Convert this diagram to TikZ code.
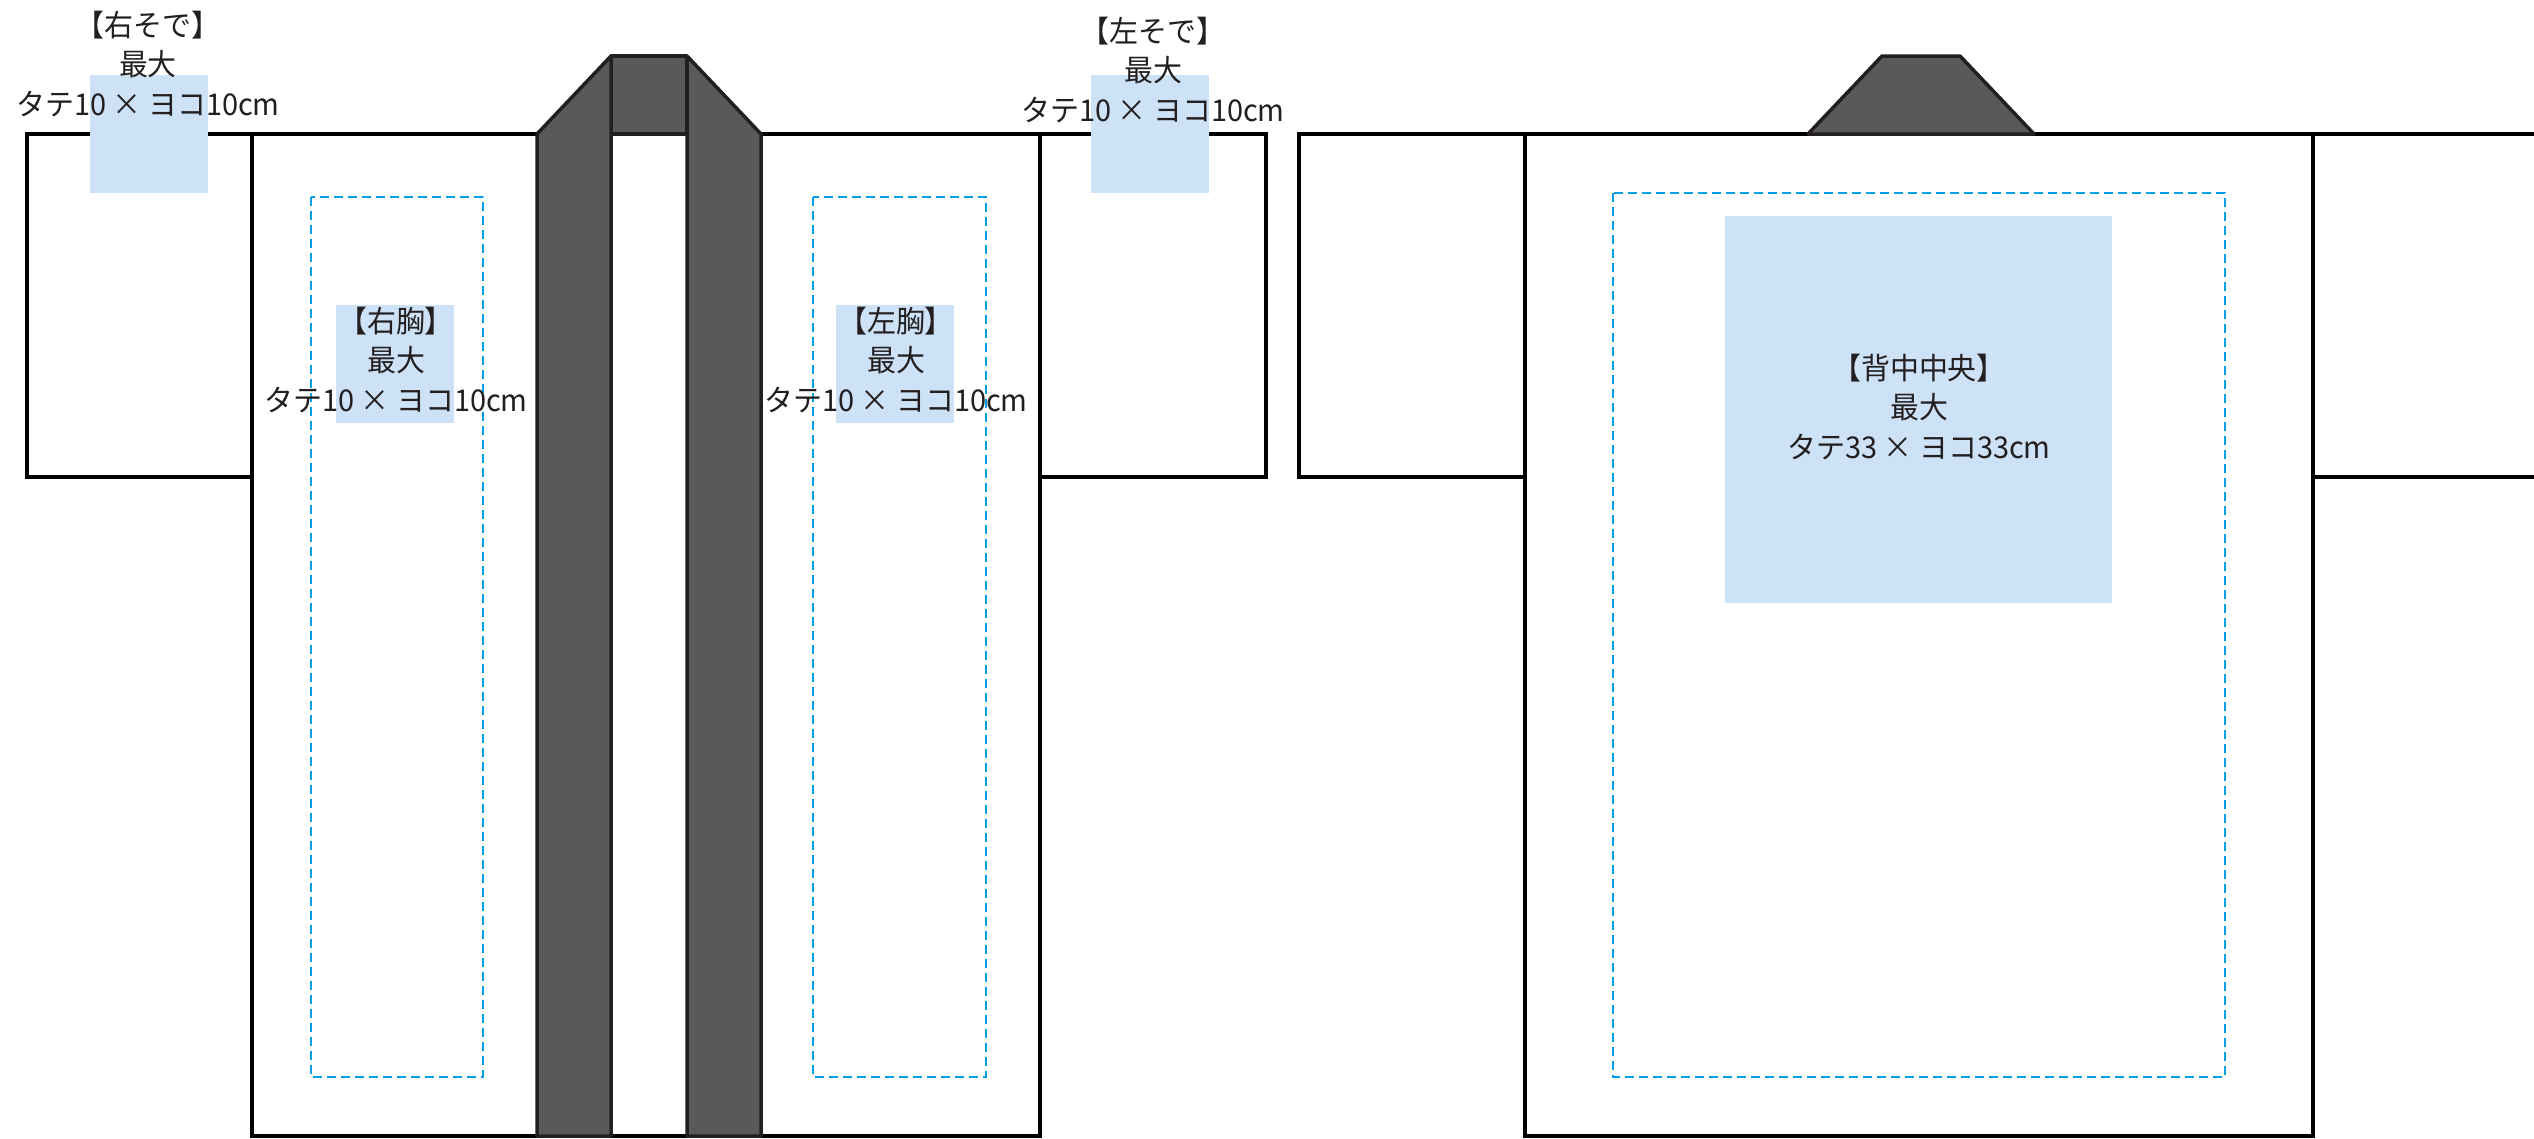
\documentclass[tikz,border=0pt]{standalone}
\usepackage{fontspec}
\newfontfamily\jpfont[FakeStretch=0.965]{Noto Sans CJK JP}
\definecolor{areablue}{HTML}{CDE2F6}
\definecolor{limitcyan}{HTML}{00A0E2}
\definecolor{collargray}{HTML}{58595B}
\definecolor{collarline}{HTML}{231F20}
\tikzset{
    bodyline/.style={line width=4pt,black},
    collarpart/.style={line width=3.5pt,draw=collarline,fill=collargray,line join=round},
    printarea/.style={fill=areablue},
    printlimit/.style={line width=2.4pt,draw=limitcyan,dash pattern=on 9pt off 5pt},
    sizelabel/.style={inner sep=0pt,align=center,text=collarline,font=\jpfont\fontsize{30}{39.5}\selectfont}
}
\begin{document}
\begin{tikzpicture}[x=1pt,y=-1pt]
        \useasboundingbox (0,0) rectangle (2534,1138);
        \fill[white] (0,0) rectangle (2534,1138);
        % front
        \draw[bodyline] (252,134) -- (27,134) -- (27,477) -- (252,477);
        \draw[bodyline] (1040,134) -- (1266,134) -- (1266,477) -- (1040,477);
        \draw[bodyline] (252,134) rectangle (1040,1136);
        \draw[collarpart] (611,56) rectangle (687,134);
        \draw[collarpart] (537,1136) -- (537,134) -- (611,56) -- (611,1136) -- cycle;
        \draw[collarpart] (761,1136) -- (761,134) -- (687,56) -- (687,1136) -- cycle;
        \draw[printlimit] (311,197) rectangle (483,1077);
        \draw[printlimit] (813,197) rectangle (986,1077);
        \fill[printarea] (90,75) rectangle (208,193);
        \fill[printarea] (1091,75) rectangle (1209,193);
        \fill[printarea] (336,305) rectangle (454,423);
        \fill[printarea] (836,305) rectangle (954,423);
        % back
        \draw[bodyline] (1525,134) -- (1299,134) -- (1299,477) -- (1525,477);
        \draw[bodyline] (2313,134) -- (2534,134);
        \draw[bodyline] (2313,477) -- (2534,477);
        \draw[bodyline] (1525,134) rectangle (2313,1136);
        \draw[collarpart] (1808,134) -- (1882,56) -- (1960,56) -- (2034,134) -- cycle;
        \draw[printlimit] (1613,193) rectangle (2225,1077);
        \fill[printarea] (1725,216) rectangle (2112,603);
        % labels
        \node[sizelabel] (migisode) at (148,64) {【右そで】\\最大\\タテ10 × ヨコ10cm};
        \node[sizelabel] (hidarisode) at (1153,70) {【左そで】\\最大\\タテ10 × ヨコ10cm};
        \node[sizelabel] (migimune) at (396,360) {【右胸】\\最大\\タテ10 × ヨコ10cm};
        \node[sizelabel] (hidarimune) at (896,360) {【左胸】\\最大\\タテ10 × ヨコ10cm};
        \node[sizelabel] (senaka) at (1919,407) {【背中中央】\\最大\\タテ33 × ヨコ33cm};
    \end{tikzpicture}
\end{document}
